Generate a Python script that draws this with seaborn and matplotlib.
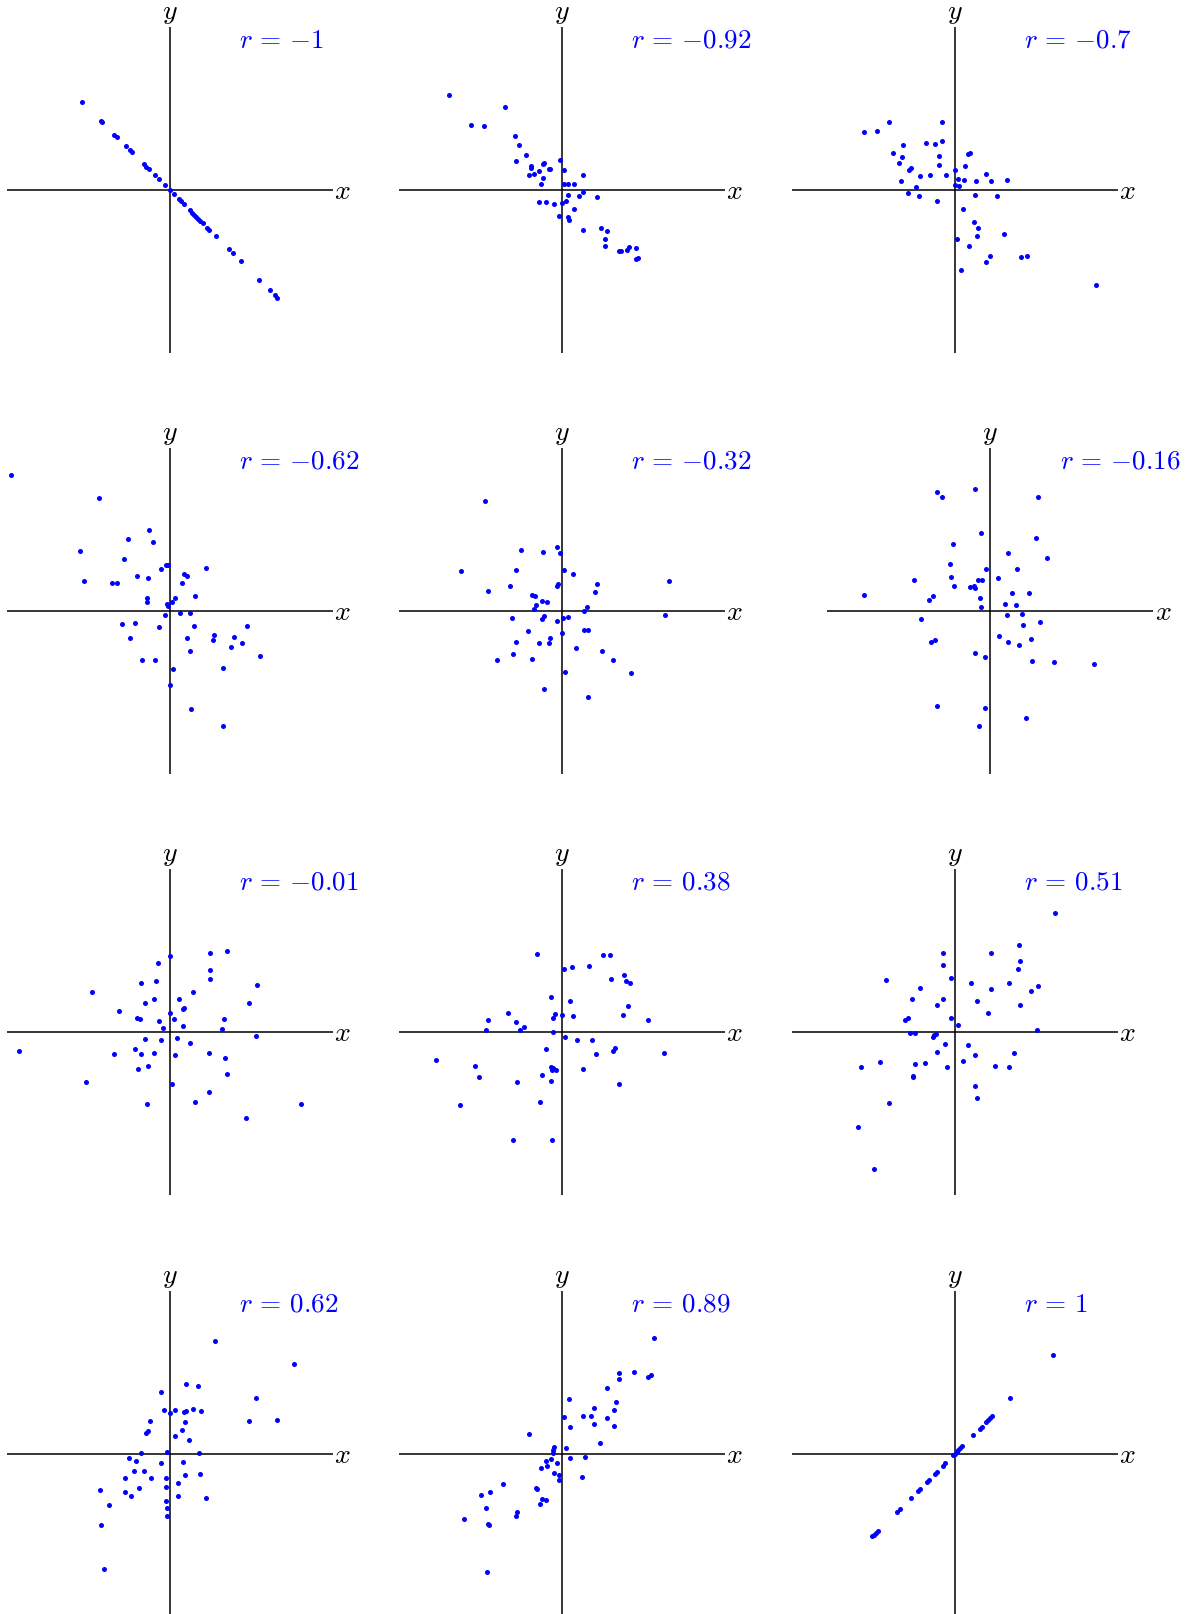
import matplotlib
matplotlib.use("Agg")
import matplotlib.pyplot as plt
import seaborn as sns

sns.set_style("white")
plt.rcParams["mathtext.fontset"] = "cm"
plt.rcParams["font.family"] = ["DejaVu Sans"]

# ---- data: one (x, y) sample per panel, labelled by its correlation ----
r_labels = ["-1", "-0.92", "-0.7", "-0.62", "-0.32", "-0.16",
            "-0.01", "0.38", "0.51", "0.62", "0.89", "1"]

x_r_m100 = [-2.64, -2.06, -2.03, -1.66, -1.58, -1.30, -1.20, -1.13, -0.78, -0.71, -0.63, -0.44,
            -0.33, -0.13, 0.00, 0.14, 0.27, 0.34, 0.42, 0.62, 0.68, 0.74, 0.80, 0.86, 0.92, 1.00,
            1.12, 1.18, 1.38, 1.77, 1.89, 2.13, 2.69, 3.01, 3.16, 3.23]
y_r_m100 = [2.63, 2.06, 2.02, 1.65, 1.57, 1.31, 1.20, 1.12, 0.78, 0.69, 0.61, 0.43,
            0.32, 0.13, 0.00, -0.14, -0.27, -0.34, -0.42, -0.62, -0.69, -0.75, -0.81, -0.87, -0.93, -1.01,
            -1.14, -1.20, -1.40, -1.77, -1.90, -2.14, -2.70, -3.02, -3.16, -3.24]

x_r_m092 = [-3.38, -1.69, -2.72, -2.33, -1.41, -1.28, -1.06, -1.36, -0.05, -0.92, -0.92, -0.55, -0.52,
            -0.69, -0.39, -0.35, 0.06, -0.98, -0.84, -0.56, 0.64, -0.63, 0.07, 0.18, 0.38, 0.63, 0.52,
            0.20, 1.05, -0.68, -0.47, -0.22, 0.00, 0.12, 0.38, -0.08, 0.18, 0.23, 0.65, 1.18, 1.35,
            1.30, 1.30, 1.71, 1.79, 1.96, 2.02, 2.23, 2.24, 2.28]
y_r_m092 = [2.83, 2.47, 1.94, 1.92, 1.60, 1.33, 1.05, 0.86, 0.89, 0.72, 0.66, 0.78, 0.81,
            0.57, 0.61, 0.61, 0.59, 0.43, 0.47, 0.36, 0.43, 0.18, 0.17, 0.17, 0.16, -0.08, -0.20,
            -0.15, -0.22, -0.37, -0.36, -0.43, -0.41, -0.33, -0.57, -0.78, -0.82, -0.90, -1.20, -1.14, -1.23,
            -1.47, -1.69, -1.83, -1.83, -1.81, -1.71, -1.74, -2.09, -2.04]

x_r_m070 = [-2.71, -2.34, -1.98, -0.37, -1.54, -0.87, -0.58, -0.37, -1.86, -1.59, -0.48, 0.40, 0.46,
            -1.68, -0.48, 0.30, -1.37, -1.31, -1.03, -0.75, -0.25, 0.01, 0.94, -1.62, 0.11, 0.27,
            0.63, 1.08, 1.58, 0.00, 0.13, -1.15, -1.39, -1.06, -0.54, 0.61, 1.26, 0.25, 0.58, 0.69,
            0.68, 1.48, 0.08, 0.43, 1.07, 0.93, 1.99, 2.17, 0.19, 4.25]
y_r_m070 = [1.74, 1.77, 2.03, 2.03, 1.33, 1.39, 1.36, 1.45, 1.09, 0.99, 1.01, 1.06, 1.11,
            0.81, 0.75, 0.70, 0.59, 0.64, 0.42, 0.45, 0.45, 0.59, 0.47, 0.27, 0.31, 0.28,
            0.25, 0.26, 0.29, 0.13, 0.11, 0.07, -0.11, -0.20, -0.34, -0.16, -0.18, -0.57, -0.96, -1.16,
            -1.38, -1.34, -1.48, -1.70, -1.99, -2.17, -2.01, -2.00, -2.41, -2.86]

x_r_m062 = [-4.77, -2.11, -0.63, -1.26, -0.49, -2.70, -1.37, -0.11, -0.06, -0.25, 1.10, -0.99, -0.66,
            0.44, 0.53, -2.58, -1.73, -1.57, 0.38, -0.67, -0.67, 0.15, 0.76, 0.06, -0.09, -0.05,
            0.31, 0.62, -0.14, -1.42, -1.03, -0.31, 0.73, 2.31, -1.18, 0.52, 1.32, 1.31, 1.93, 2.18,
            1.84, 0.61, 2.71, -0.84, -0.45, 1.61, 0.09, 0.02, 0.65, 1.61]
y_r_m062 = [4.07, 3.38, 2.41, 2.14, 2.05, 1.79, 1.55, 1.37, 1.36, 1.25, 1.28, 1.05, 0.98,
            1.10, 1.03, 0.88, 0.82, 0.82, 0.83, 0.38, 0.27, 0.39, 0.43, 0.25, 0.20, 0.15,
            -0.06, -0.08, -0.13, -0.39, -0.38, -0.49, -0.47, -0.46, -0.81, -0.81, -0.73, -0.87, -0.80, -0.97,
            -1.10, -1.20, -1.37, -1.47, -1.48, -1.72, -1.75, -2.22, -2.94, -3.47]

x_r_m032 = [-2.30, -0.14, -1.21, -0.55, -0.05, -3.02, -1.36, 0.08, 0.35, 3.22, -1.54, -0.12, -0.14,
            1.05, -2.20, 1.01, -0.89, -0.81, -0.60, -0.44, -0.76, -0.82, 0.76, 0.66, 3.10, -1.50,
            -0.60, -0.53, 0.04, 0.20, -0.14, 0.66, 0.78, -1.02, 0.02, -0.35, -1.37, -0.68, -0.39, 0.44,
            1.22, -1.47, -1.93, -0.88, 1.54, 0.10, 2.08, -0.53, 0.78]
y_r_m032 = [3.28, 1.91, 1.83, 1.76, 1.73, 1.18, 1.22, 1.21, 1.10, 0.88, 0.73, 0.81, 0.73,
            0.79, 0.60, 0.57, 0.46, 0.43, 0.28, 0.25, 0.18, 0.04, 0.12, -0.02, -0.12, -0.22,
            -0.24, -0.17, -0.23, -0.20, -0.30, -0.57, -0.57, -0.61, -0.66, -0.83, -0.94, -0.98, -0.98, -1.13,
            -1.22, -1.31, -1.48, -1.44, -1.47, -1.83, -1.86, -2.34, -2.60]

x_r_m016 = [-0.46, -1.59, -1.43, 1.44, -0.26, 1.39, -1.12, 0.53, 1.72, -1.19, -0.13, 0.82, -2.29,
            -1.16, 0.24, -0.37, -0.24, -1.09, -0.61, -0.48, -0.45, -3.77, -1.71, -1.82, 0.66, 1.18,
            -0.30, -0.26, 0.44, 0.78, 0.97, 0.50, -2.07, 1.00, 1.50, 0.26, 0.53, 0.88, 1.24, -1.78,
            -1.65, -0.46, -0.16, 1.25, 1.92, 3.12, -1.58, -0.14, 1.07, -0.34]
y_r_m016 = [3.64, 3.55, 3.42, 3.41, 2.32, 2.17, 1.99, 1.73, 1.58, 1.41, 1.24, 1.26, 0.93,
            1.00, 0.97, 0.91, 0.91, 0.73, 0.72, 0.74, 0.69, 0.48, 0.43, 0.31, 0.52, 0.53,
            0.38, 0.11, 0.19, 0.18, -0.09, -0.14, -0.25, -0.43, -0.35, -0.77, -0.95, -1.03, -0.86, -0.95,
            -0.89, -1.27, -1.39, -1.52, -1.53, -1.59, -2.87, -2.92, -3.23, -3.46]

x_r_m001 = [0.00, 1.20, 1.72, -0.36, 1.22, 1.20, -0.42, -0.85, 2.63, -2.33, 0.71, -0.48, 0.28,
            -0.73, 2.37, -1.51, 0.43, 0.40, 0.00, -0.97, -0.90, 0.13, -0.31, 1.62, 0.39, -0.19,
            1.58, 2.58, -0.75, -0.25, 0.23, 0.62, -4.52, -1.66, -1.03, -0.87, -0.46, 0.17, 1.19, 1.67,
            -0.94, -0.66, 1.73, -2.51, 0.08, 1.18, -0.69, 0.75, 3.95, 2.29]
y_r_m001 = [2.26, 2.37, 2.41, 2.06, 1.86, 1.58, 1.52, 1.45, 1.41, 1.19, 1.19, 0.99, 0.97,
            0.86, 0.87, 0.62, 0.71, 0.67, 0.57, 0.42, 0.37, 0.38, 0.31, 0.37, 0.18, 0.11,
            0.08, -0.14, -0.22, -0.25, -0.20, -0.33, -0.58, -0.67, -0.51, -0.66, -0.64, -0.71, -0.65, -0.80,
            -1.13, -1.03, -1.28, -1.51, -1.56, -1.82, -2.18, -2.11, -2.17, -2.58]

x_r_p038 = [-0.74, 1.25, 1.45, 0.08, 0.32, 0.82, 1.88, 1.49, 1.92, 2.06, -0.32, 0.24, 1.98,
            -1.62, -0.19, 0.01, -0.25, 0.33, 1.85, -2.20, -1.37, 2.58, -1.14, -1.25, -2.27, -0.27,
            0.09, 0.47, 0.90, -0.46, 1.59, 1.53, 1.03, 3.07, -3.78, -2.61, -0.32, -0.26, -0.18, -0.28,
            0.65, -2.49, -0.60, -1.34, -0.31, 1.72, -3.04, -0.65, -1.47, -0.29]
y_r_p038 = [2.34, 2.31, 2.29, 1.88, 1.93, 1.96, 1.71, 1.58, 1.53, 1.47, 1.04, 0.93, 0.78,
            0.55, 0.52, 0.49, 0.40, 0.46, 0.51, 0.35, 0.29, 0.35, 0.13, 0.06, 0.05, -0.02,
            -0.16, -0.26, -0.25, -0.52, -0.48, -0.59, -0.68, -0.64, -0.84, -1.02, -1.07, -1.09, -1.14, -1.14,
            -1.13, -1.36, -1.29, -1.52, -1.48, -1.56, -2.20, -2.11, -3.25, -3.25]

x_r_p051 = [3.00, 1.94, -0.35, 1.10, 1.96, -0.36, 1.90, -0.11, -2.05, 0.50, 1.63, 2.51, -1.03,
            1.10, 2.29, -1.27, -0.34, 0.68, -0.53, 1.95, 1.01, -1.41, -1.49, -0.10, 0.09, 2.46,
            -1.34, -1.18, -0.56, -0.61, -0.66, -0.28, 0.40, -0.54, 0.61, 1.77, -2.25, -2.80, -1.19, -0.88,
            0.26, -0.22, 1.21, 1.62, -1.26, -1.26, 0.60, 0.67, -1.96, -2.89, -2.41]
y_r_p051 = [3.56, 2.59, 2.37, 2.36, 2.11, 2.01, 1.87, 1.60, 1.55, 1.47, 1.47, 1.37, 1.30,
            1.28, 1.23, 0.98, 0.97, 0.93, 0.80, 0.80, 0.55, 0.42, 0.36, 0.42, 0.20, 0.04,
            -0.05, -0.05, -0.08, -0.11, -0.15, -0.36, -0.41, -0.60, -0.71, -0.65, -0.91, -1.05, -0.98, -0.94,
            -0.89, -1.07, -1.04, -1.06, -1.32, -1.36, -1.62, -1.98, -2.14, -2.86, -4.13]

x_r_p062 = [1.35, 3.74, 0.50, 0.85, -0.27, 2.59, -0.18, 0.01, 0.15, 0.44, 0.49, 0.69, 0.93,
            -0.59, 0.45, 2.37, 3.23, -0.71, -0.66, 0.36, 0.17, 0.59, -0.87, -0.08, 0.87, -1.21,
            -1.00, -0.27, 0.40, -1.07, -0.76, 0.47, 0.91, -1.33, -0.57, -0.11, 0.24, -2.09, -1.33, -0.93,
            -0.11, -1.16, 0.24, 1.09, -1.83, -0.12, -0.08, -0.07, -2.06, -1.98]
y_r_p062 = [3.37, 2.70, 2.10, 2.03, 1.85, 1.68, 1.32, 1.22, 1.30, 1.26, 1.28, 1.33, 1.29,
            0.98, 0.94, 0.97, 1.01, 0.63, 0.69, 0.72, 0.52, 0.42, 0.01, 0.05, 0.03, -0.14,
            -0.23, -0.28, -0.25, -0.52, -0.53, -0.63, -0.60, -0.74, -0.72, -0.73, -0.87, -1.09, -1.16, -1.04,
            -1.00, -1.28, -1.26, -1.33, -1.55, -1.41, -1.62, -1.88, -2.13, -3.47]

x_r_p089 = [2.77, 1.73, 2.16, 2.59, 2.67, 1.73, 1.36, 0.21, 1.64, 0.97, 1.56, 0.08, 0.65,
            0.89, 1.35, 0.97, 1.58, 0.26, -0.97, 1.14, -0.24, 0.13, -0.26, -0.27, 0.24, 0.69,
            -0.33, -0.47, -0.14, -0.62, -0.45, -0.22, -0.08, -0.07, 0.62, -1.77, -2.14, -2.41, -0.76, -0.74,
            -0.60, -0.48, -0.66, -2.27, -1.34, -1.37, -2.92, -2.20, -2.19, -2.23]
y_r_p089 = [3.47, 2.42, 2.44, 2.31, 2.35, 2.23, 1.97, 1.64, 1.54, 1.36, 1.32, 1.10, 1.14,
            1.14, 1.06, 0.89, 0.82, 0.79, 0.60, 0.32, 0.20, 0.18, 0.12, 0.03, -0.12, -0.09,
            -0.17, -0.22, -0.28, -0.42, -0.37, -0.58, -0.64, -0.78, -0.71, -0.90, -1.14, -1.25, -1.02, -1.06,
            -1.35, -1.39, -1.51, -1.62, -1.75, -1.88, -1.96, -2.10, -2.14, -3.54]

x_r_p100 = [2.96, 1.66, 1.13, 1.07, 1.01, 0.95, 0.81, 0.75, 0.56, 0.23, 0.17, 0.11, 0.06,
            0.00, -0.04, -0.28, -0.36, -0.54, -0.59, -0.76, -0.82, -1.03, -1.09, -1.31, -1.65, -1.73,
            -2.30, -2.36, -2.42, -2.47]
y_r_p100 = [2.95, 1.66, 1.13, 1.07, 1.01, 0.95, 0.80, 0.74, 0.56, 0.23, 0.17, 0.11, 0.06,
            0.00, -0.04, -0.27, -0.37, -0.56, -0.61, -0.79, -0.85, -1.05, -1.12, -1.33, -1.67, -1.75,
            -2.31, -2.37, -2.43, -2.48]

samples = [(x_r_m100, y_r_m100), (x_r_m092, y_r_m092), (x_r_m070, y_r_m070),
           (x_r_m062, y_r_m062), (x_r_m032, y_r_m032), (x_r_m016, y_r_m016),
           (x_r_m001, y_r_m001), (x_r_p038, y_r_p038), (x_r_p051, y_r_p051),
           (x_r_p062, y_r_p062), (x_r_p089, y_r_p089), (x_r_p100, y_r_p100)]

# ---- layout (pixels on a 1191 x 1615 canvas) ----
W, H = 1191, 1615
col_cx = [169.7, 561.7, 954.7]
row_cy = [190.7, 611.7, 1032.7, 1454.7]
shift_x = {5: 35.3}          # the r = -0.16 panel sits a little further right
half_box = 170.0             # half-size of each axes box in pixels
lim = 5.1                    # data half-range shown in each box
axis_len = 4.89              # half-length of the drawn x / y axes

fig = plt.figure(figsize=(W / 100, H / 100), dpi=100)
fig.patch.set_facecolor("white")

for i, ((xs, ys), lab) in enumerate(zip(samples, r_labels)):
    r, c = divmod(i, 3)
    cx = col_cx[c] + shift_x.get(i, 0.0)
    cy = row_cy[r]
    ax = fig.add_axes([(cx - half_box) / W, 1 - (cy + half_box) / H,
                       2 * half_box / W, 2 * half_box / H])
    ax.set_xlim(-lim, lim)
    ax.set_ylim(-lim, lim)
    ax.set_axis_off()

    ax.hlines(0, -axis_len, axis_len, color="black", lw=1.1, zorder=1)
    ax.vlines(0, -axis_len, axis_len, color="black", lw=1.1, zorder=1)

    sns.scatterplot(x=xs, y=ys, ax=ax, color="#0000ff", s=13,
                    linewidth=0, zorder=3, legend=False, clip_on=False)

    ax.text(axis_len + 0.05, 0, r"$x$", fontsize=20, ha="left", va="center",
            color="black")
    ax.text(0, 5.14, r"$y$", fontsize=20, ha="center", va="baseline",
            color="black")
    ax.text(2.09, 4.5, r"$r\,=\,{%s}$" % lab, fontsize=19.5, ha="left",
            va="center", color="#0000ff")

fig.savefig("out.png", dpi=100, facecolor="white")
